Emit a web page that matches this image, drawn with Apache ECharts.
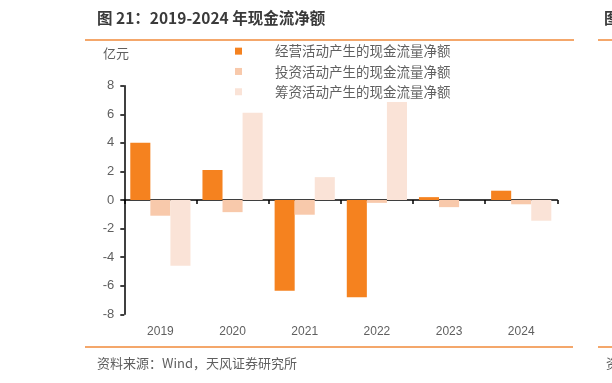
<!DOCTYPE html>
<html><head><meta charset="utf-8">
<script src="https://cdn.jsdelivr.net/npm/echarts@6/dist/echarts.min.js"></script>
<style>html,body{margin:0;padding:0;background:#fff}#c{width:612px;height:383px}</style>
</head><body><div id="c"></div>
<script>
const categories = ['2019','2020','2021','2022','2023','2024'];
const operating = [4.0, 2.1, -6.35, -6.8, 0.2, 0.65];
const investing = [-1.1, -0.85, -1.03, -0.2, -0.5, -0.3];
const financing = [-4.6, 6.1, 1.6, 7.5, 0, -1.45];
const seriesNames = ['经营活动产生的现金流量净额','投资活动产生的现金流量净额','筹资活动产生的现金流量净额'];
const yTicks = [-8,-6,-4,-2,0,2,4,6,8];

const colors = ['#F5821F','#F8C9AB','#FAE3D7'];
const font = '"Liberation Sans","Noto Sans CJK SC",Arial,sans-serif';
const cjk = '"Noto Sans CJK SC","Liberation Sans",sans-serif';
const labelColor = '#5f5f5f';

const chart = echarts.init(document.getElementById('c'), null, {renderer:'canvas'});
const mk = (name, data, i) => ({
  name, type:'bar', data, xAxisIndex:0, yAxisIndex:0,
  barWidth:'27.8%', barGap:'0%',
  itemStyle:{color:colors[i]}, z:2
});
chart.setOption({
  animation:false,
  grid:{left:124.3, right:54.7, top:85.7, bottom:68.7, containLabel:false},
  legend:{
    orient:'vertical', left:230, top:41, padding:[0,5,0,5],
    backgroundColor:'#fff', z:10,
    itemWidth:7, itemHeight:7, itemGap:0, icon:'rect',
    data:seriesNames,
    textStyle:{fontFamily:cjk, fontSize:13.5, color:labelColor, lineHeight:20.3, padding:[0,0,0,28]}
  },
  xAxis:[{
    type:'category', data:categories, position:'bottom',
    axisLine:{onZero:true, lineStyle:{color:'#000', width:1.5}},
    axisTick:{show:true, length:4, lineStyle:{color:'#000', width:1.5}},
    axisLabel:{show:false}, splitLine:{show:false}
  },{
    type:'category', data:categories, position:'bottom',
    axisLine:{show:false, onZero:false}, axisTick:{show:false},
    axisLabel:{show:true, margin:11, fontFamily:font, fontSize:12, color:labelColor},
    splitLine:{show:false}
  }],
  yAxis:{
    type:'value', min:yTicks[0], max:yTicks[yTicks.length-1], interval:2,
    axisLine:{show:true, lineStyle:{color:'#000', width:1.5}},
    axisTick:{show:true, length:4, lineStyle:{color:'#000', width:1.5}},
    axisLabel:{margin:10, fontFamily:font, fontSize:13, color:labelColor},
    splitLine:{show:false}
  },
  series:[mk(seriesNames[0], operating, 0), mk(seriesNames[1], investing, 1), mk(seriesNames[2], financing, 2)],
  graphic:[
    {type:'text', left:97, top:10, style:{text:'图 21：2019-2024 年现金流净额', font:'bold 15.5px '+cjk, fill:'#3a3a3a'}},
    {type:'text', left:604, top:10, style:{text:'图', font:'bold 15.5px '+cjk, fill:'#3a3a3a'}},
    {type:'line', shape:{x1:85, y1:40, x2:574, y2:40}, style:{stroke:'#F08A3A', lineWidth:1.5}},
    {type:'line', shape:{x1:598, y1:40, x2:612, y2:40}, style:{stroke:'#F08A3A', lineWidth:1.5}},
    {type:'text', left:103, top:47, style:{text:'亿元', font:'13px '+cjk, fill:labelColor}},
    {type:'line', shape:{x1:85, y1:347, x2:573, y2:347}, style:{stroke:'#F08A3A', lineWidth:1.5}},
    {type:'line', shape:{x1:598, y1:347, x2:612, y2:347}, style:{stroke:'#F08A3A', lineWidth:1.5}},
    {type:'text', left:97, top:357, style:{text:'资料来源：Wind，天风证券研究所', font:'13px '+cjk, fill:labelColor}},
    {type:'text', left:606, top:357, style:{text:'资', font:'13px '+cjk, fill:labelColor}}
  ]
});
</script></body></html>
